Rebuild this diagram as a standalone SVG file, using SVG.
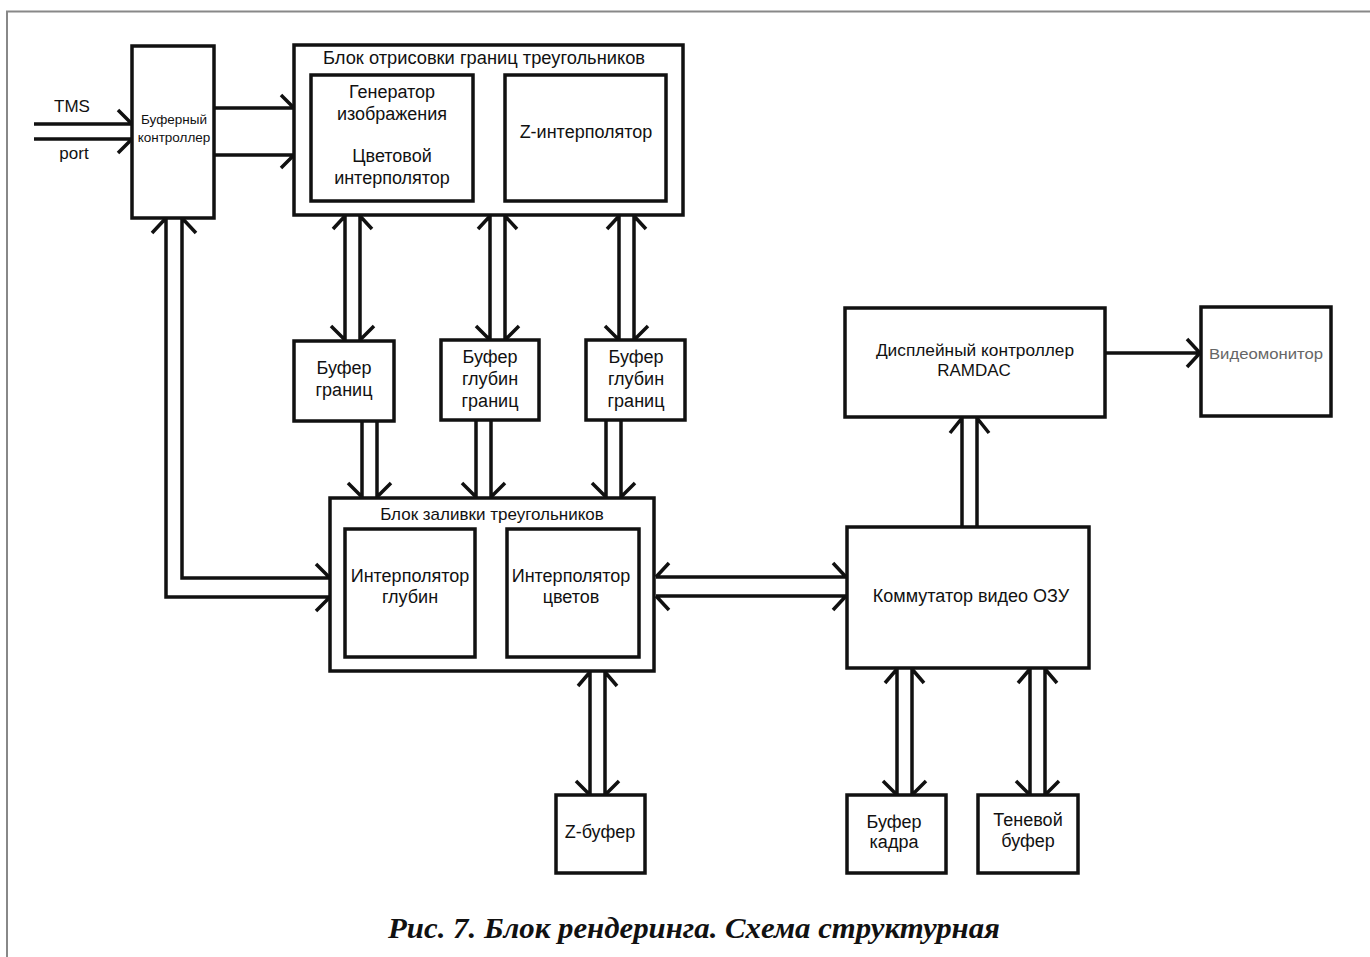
<svg xmlns="http://www.w3.org/2000/svg" width="1370" height="957" viewBox="0 0 1370 957">
  <style>
    .box { fill: #fff; stroke: #111; stroke-width: 3.5; }
    .bus { fill: none; stroke: #111; stroke-width: 3.5; stroke-linecap: butt; stroke-linejoin: miter; }
    .frame { fill: none; stroke: #888; stroke-width: 2; }
    .lbl { font-family: "Liberation Sans", Arial, sans-serif; font-size: 18px; fill: #111; text-anchor: middle; }
    .ttl { font-family: "Liberation Sans", Arial, sans-serif; font-size: 17px; fill: #111; text-anchor: middle; }
    .sm { font-family: "Liberation Sans", Arial, sans-serif; font-size: 13.5px; fill: #111; text-anchor: middle; }
    .mon { font-family: "Liberation Sans", Arial, sans-serif; font-size: 14px; fill: #666; text-anchor: middle; }
    .cap { font-family: "Liberation Serif", "Times New Roman", serif; font-size: 29px; font-style: italic; font-weight: bold; fill: #111; text-anchor: middle; }
  </style>

  <rect width="1370" height="957" fill="#fff"/>
  <!-- page frame -->
  <path class="frame" d="M7,957 V11.5 H1370"/>

  <!-- connectors: double-line buses with half barbs -->
  <g id="connectors">
    <!-- TMS / port inputs -->
    <path class="bus" d="M34,124 H132 M118,110 L132,124 M34,139 H132 M118,153 L132,139"/>
    <!-- buffer controller to edge-drawing block -->
    <path class="bus" d="M215,108 H294 M281,95 L294,108 M215,155 H294 M281,168 L294,155"/>
    <!-- buffer controller to fill block (L-shaped bus) -->
    <path class="bus" d="M166,218 V597 H330 M182,218 V578 H330 M152,233 L166,218 M196,233 L182,218 M316,564 L330,578 M316,611 L330,597"/>
    <!-- edge block <-> edge buffer -->
    <path class="bus" d="M345,216 V340 M360,216 V340 M333,229 L345,216 M372,229 L360,216 M331,326 L345,340 M374,326 L360,340"/>
    <!-- edge block <-> depth buffer 1 -->
    <path class="bus" d="M490,216 V340 M505,216 V340 M478,229 L490,216 M517,229 L505,216 M476,326 L490,340 M519,326 L505,340"/>
    <!-- edge block <-> depth buffer 2 -->
    <path class="bus" d="M619,216 V340 M634,216 V340 M607,229 L619,216 M646,229 L634,216 M605,326 L619,340 M648,326 L634,340"/>
    <!-- buffers to fill block -->
    <path class="bus" d="M362,421 V497 M377,421 V497 M348,483 L362,497 M391,483 L377,497"/>
    <path class="bus" d="M476,421 V497 M491,421 V497 M462,483 L476,497 M505,483 L491,497"/>
    <path class="bus" d="M606,421 V497 M621,421 V497 M592,483 L606,497 M635,483 L621,497"/>
    <!-- fill block <-> video RAM switch -->
    <path class="bus" d="M656,577 H846 M656,596 H846 M669,563 L656,577 M669,610 L656,596 M833,563 L846,577 M833,610 L846,596"/>
    <!-- fill block <-> Z-buffer -->
    <path class="bus" d="M590,672 V795 M605,672 V795 M578,686 L590,672 M617,686 L605,672 M576,781 L590,795 M619,781 L605,795"/>
    <!-- video RAM switch to display controller -->
    <path class="bus" d="M962,527 V418 M977,527 V418 M950,433 L962,418 M989,433 L977,418"/>
    <!-- display controller to monitor -->
    <path class="bus" d="M1105,353 H1200 M1187,339 L1200,353 L1187,367"/>
    <!-- video RAM switch <-> frame buffer -->
    <path class="bus" d="M897,669 V795 M912,669 V795 M885,683 L897,669 M924,683 L912,669 M883,781 L897,795 M926,781 L912,795"/>
    <!-- video RAM switch <-> shadow buffer -->
    <path class="bus" d="M1030,669 V795 M1045,669 V795 M1018,683 L1030,669 M1057,683 L1045,669 M1016,781 L1030,795 M1059,781 L1045,795"/>
  </g>

  <g id="buffer-controller">
    <rect class="box" x="132" y="46" width="82" height="172"/>
    <text class="sm" x="174" y="124">Буферный</text>
    <text class="sm" x="174" y="142">контроллер</text>
  </g>
  <text class="ttl" x="72" y="112">TMS</text>
  <text class="ttl" x="74" y="159">port</text>

  <g id="edge-block">
    <rect class="box" x="294" y="45" width="389" height="170"/>
    <text class="ttl" x="484" y="64" style="font-size:18.3px">Блок отрисовки границ треугольников</text>
  </g>
  <g id="image-generator">
    <rect class="box" x="311" y="75" width="162" height="126"/>
    <text class="lbl" x="392" y="98">Генератор</text>
    <text class="lbl" x="392" y="120">изображения</text>
    <text class="lbl" x="392" y="162">Цветовой</text>
    <text class="lbl" x="392" y="184">интерполятор</text>
  </g>
  <g id="z-interpolator">
    <rect class="box" x="505" y="75" width="161" height="126"/>
    <text class="lbl" x="586" y="138">Z-интерполятор</text>
  </g>

  <g id="edge-buffer">
    <rect class="box" x="294" y="341" width="100" height="80"/>
    <text class="lbl" x="344" y="374">Буфер</text>
    <text class="lbl" x="344" y="396">границ</text>
  </g>
  <g id="depth-buffer-1">
    <rect class="box" x="441" y="340" width="98" height="80"/>
    <text class="lbl" x="490" y="363">Буфер</text>
    <text class="lbl" x="490" y="385">глубин</text>
    <text class="lbl" x="490" y="407">границ</text>
  </g>
  <g id="depth-buffer-2">
    <rect class="box" x="586" y="340" width="99" height="80"/>
    <text class="lbl" x="636" y="363">Буфер</text>
    <text class="lbl" x="636" y="385">глубин</text>
    <text class="lbl" x="636" y="407">границ</text>
  </g>

  <g id="fill-block">
    <rect class="box" x="330" y="498" width="324" height="173"/>
    <text class="ttl" x="492" y="520">Блок заливки треугольников</text>
  </g>
  <g id="depth-interpolator">
    <rect class="box" x="345" y="529" width="130" height="128"/>
    <text class="lbl" x="410" y="582">Интерполятор</text>
    <text class="lbl" x="410" y="603">глубин</text>
  </g>
  <g id="color-interpolator">
    <rect class="box" x="507" y="529" width="132" height="128"/>
    <text class="lbl" x="571" y="582">Интерполятор</text>
    <text class="lbl" x="571" y="603">цветов</text>
  </g>

  <g id="z-buffer">
    <rect class="box" x="556" y="795" width="89" height="78"/>
    <text class="lbl" x="600" y="838">Z-буфер</text>
  </g>

  <g id="display-controller">
    <rect class="box" x="845" y="308" width="260" height="109"/>
    <text class="ttl" x="975" y="356" style="font-size:17.3px">Дисплейный контроллер</text>
    <text class="ttl" x="974" y="376">RAMDAC</text>
  </g>
  <g id="video-monitor">
    <rect class="box" x="1201" y="307" width="130" height="109"/>
    <text class="mon" x="1266" y="359" textLength="114" lengthAdjust="spacingAndGlyphs">Видеомонитор</text>
  </g>

  <g id="vram-switch">
    <rect class="box" x="847" y="527" width="242" height="141"/>
    <text class="ttl" x="971" y="602" style="font-size:18px">Коммутатор видео ОЗУ</text>
  </g>
  <g id="frame-buffer">
    <rect class="box" x="847" y="795" width="99" height="78"/>
    <text class="lbl" x="894" y="828">Буфер</text>
    <text class="lbl" x="894" y="848">кадра</text>
  </g>
  <g id="shadow-buffer">
    <rect class="box" x="978" y="795" width="100" height="78"/>
    <text class="lbl" x="1028" y="826">Теневой</text>
    <text class="lbl" x="1028" y="847">буфер</text>
  </g>

  <text class="cap" x="694" y="938" textLength="612" lengthAdjust="spacingAndGlyphs">Рис. 7. Блок рендеринга. Схема структурная</text>
</svg>
